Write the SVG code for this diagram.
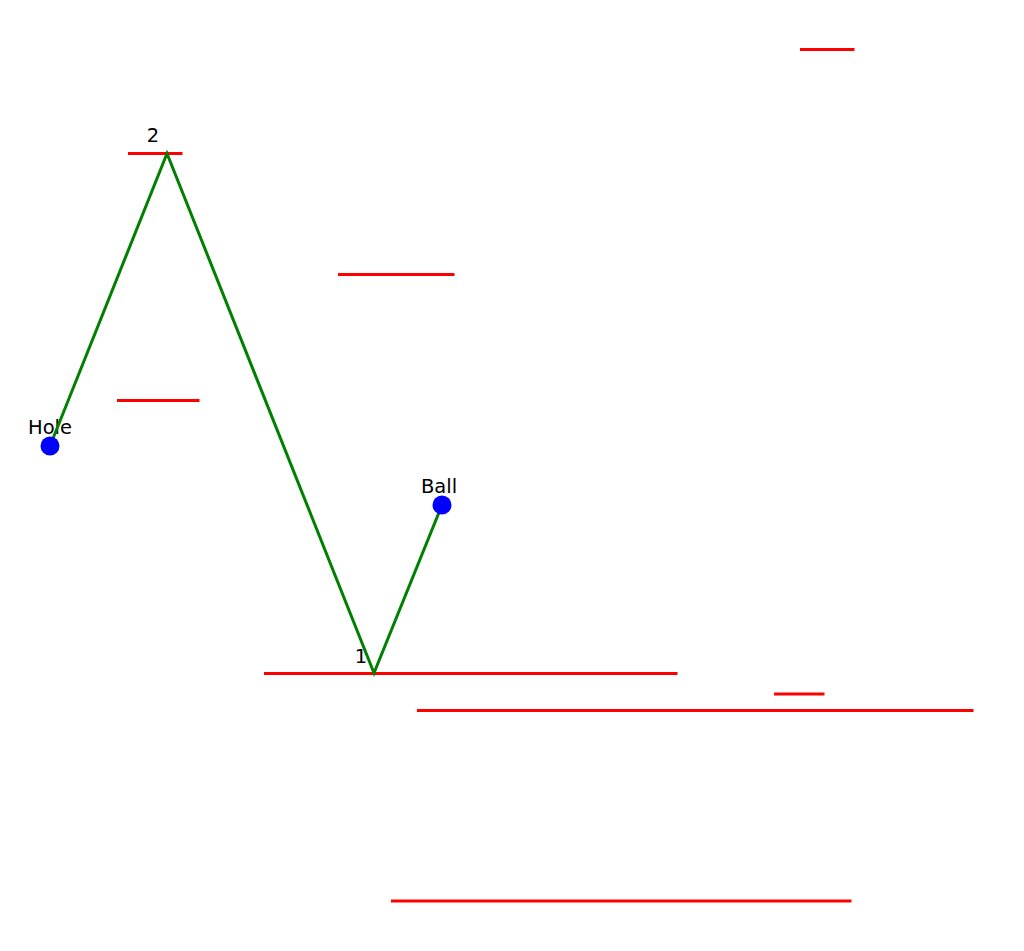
<svg xmlns="http://www.w3.org/2000/svg" width="1024" height="951" viewBox="0 0 1024 951">
<style>
.wall{stroke:#ff0000;stroke-width:3;fill:none}
.path{stroke:#008000;stroke-width:3;fill:none;stroke-linejoin:miter}
.pt{fill:#0000ff}
text{font-family:"DejaVu Sans",sans-serif;font-size:19.5px;fill:#000}
</style>
<rect width="1024" height="951" fill="#fff"/>
<g id="walls">
<line class="wall" x1="800" y1="49.5" x2="854.5" y2="49.5"/>
<line class="wall" x1="128" y1="153.5" x2="182.5" y2="153.5"/>
<line class="wall" x1="338" y1="274.5" x2="454.5" y2="274.5"/>
<line class="wall" x1="117" y1="400.5" x2="199.5" y2="400.5"/>
<line class="wall" x1="264" y1="673.5" x2="677.5" y2="673.5"/>
<line class="wall" x1="774" y1="694" x2="824.5" y2="694"/>
<line class="wall" x1="417" y1="710.5" x2="973.5" y2="710.5"/>
<line class="wall" x1="391" y1="901" x2="851.5" y2="901"/>
</g>
<g id="labels">
<text x="153" y="142" text-anchor="middle">2</text>
<text x="361" y="663" text-anchor="middle">1</text>
<text id="hole-label" x="50" y="434" text-anchor="middle">Hole</text>
<text id="ball-label" x="439" y="493" text-anchor="middle">Ball</text>
</g>
<g id="connectors">
<polyline class="path" points="50,446 167,153.5 374,673 442,505"/>
</g>
<g id="hole"><circle class="pt" cx="50" cy="446" r="9.5"/></g>
<g id="ball"><circle class="pt" cx="442" cy="505" r="9.5"/></g>
</svg>
